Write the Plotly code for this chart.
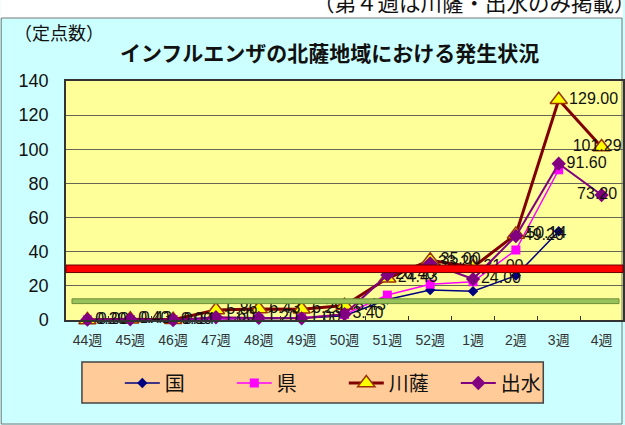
import plotly.graph_objects as go

weeks = ["44週", "45週", "46週", "47週", "48週", "49週", "50週", "51週", "52週", "1週", "2週", "3週", "4週"]
kuni = [0.1, 0.2, 0.3, 0.5, 0.7, 1.0, 2.5, 12.0, 17.6, 16.8, 26.0, 52.0, None]
ken = [0.1, 0.2, 0.3, 0.6, 0.9, 1.3, 3.2, 14.6, 21.0, 22.4, 41.0, 88.0, None]
sensatsu = [0.00, 0.43, 0.14, 5.86, 6.43, 6.29, 8.43, 24.43, 35.00, 31.00, 50.14, 129.00, 101.29]
izumi = [0.20, 0.40, 0.00, 1.60, 1.20, 1.00, 3.40, 26.40, 33.20, 24.00, 49.20, 91.60, 73.20]
yticks = [0, 20, 40, 60, 80, 100, 120, 140]
alert_level = 30
caution_level = 11

FONT = "Liberation Sans, Arial, Noto Sans CJK JP, sans-serif"
JFONT = "Noto Sans CJK JP, sans-serif"

L, R, T, B = 66, 0, 81, 105
W, H = 625, 425
PW, PH = W - L - R, H - T - B


def px(x):
    return (x - L) / PW


def py(y):
    return (H - B - y) / PH


def labels(values):
    # last point: keep the label inside the chart (shifted left like the original)
    out = [f"{v:.2f}" for v in values]
    out[-1] = out[-1] + "\u00a0" * 2
    return out


def positions(values):
    pos = ["middle right"] * len(values)
    pos[-1] = "middle center"
    return pos


fig = go.Figure()
fig.add_trace(go.Scatter(x=weeks, y=kuni, name="国", mode="lines+markers",
                         line=dict(color="#000080", width=1.5),
                         marker=dict(symbol="diamond", size=8, color="#000080")))
fig.add_trace(go.Scatter(x=weeks, y=ken, name="県", mode="lines+markers",
                         line=dict(color="#FF00FF", width=1.5),
                         marker=dict(symbol="square", size=9, color="#FF00FF")))
fig.add_trace(go.Scatter(x=weeks, y=sensatsu, name="川薩", mode="lines+markers+text",
                         line=dict(color="#800000", width=3),
                         marker=dict(symbol="triangle-up", size=15, color="#FFFF00",
                                     line=dict(color="#993300", width=1.5)),
                         text=labels(sensatsu), textposition=positions(sensatsu),
                         textfont=dict(family=FONT, size=16, color="#111111"), cliponaxis=False))
fig.add_trace(go.Scatter(x=weeks, y=izumi, name="出水", mode="lines+markers+text",
                         line=dict(color="#800080", width=2),
                         marker=dict(symbol="diamond", size=11, color="#800080"),
                         text=labels(izumi), textposition=positions(izumi),
                         textfont=dict(family=FONT, size=16, color="#111111"), cliponaxis=False))

shapes = [
    dict(type="rect", xref="paper", yref="paper", x0=px(0), x1=px(W), y0=py(0), y1=py(18),
         fillcolor="white", line=dict(width=0), layer="below"),
    dict(type="rect", xref="paper", yref="paper", x0=px(1), x1=px(624), y0=py(18), y1=py(424),
         fillcolor="rgba(0,0,0,0)", line=dict(color="#777777", width=1), layer="below"),
    dict(type="rect", xref="paper", yref="paper", x0=px(82), x1=px(545), y0=py(362), y1=py(403),
         fillcolor="#FFCC99", line=dict(color="#444444", width=1.5), layer="below"),
    dict(type="rect", xref="paper", yref="y", x0=px(72), x1=px(621), y0=caution_level - 1.4,
         y1=caution_level + 1.4, fillcolor="#99C35A", line=dict(color="#6B8E3A", width=1),
         layer="above"),
    dict(type="rect", xref="paper", yref="y", x0=0, x1=1, y0=alert_level - 2.2, y1=alert_level + 2.2,
         fillcolor="#FF0000", line=dict(color="#660000", width=1), layer="above"),
]

annotations = [
    dict(text="インフルエンザの北薩地域における発生状況", xref="paper", yref="paper",
         x=px(330), y=py(52), xanchor="center", yanchor="middle", showarrow=False,
         font=dict(family=JFONT, size=21, color="#111111", weight="bold")),
    dict(text="（定点数）", xref="paper", yref="paper", x=px(12), y=py(32), xanchor="left",
         yanchor="middle", showarrow=False, font=dict(family=JFONT, size=18, color="#111111")),
    dict(text="（第４週は川薩・出水のみ掲載）", xref="paper", yref="paper", x=px(312), y=py(1),
         xanchor="left", yanchor="middle", showarrow=False,
         font=dict(family=JFONT, size=21.5, color="#111111")),
]

fig.update_layout(
    width=W, height=H,
    margin=dict(l=L, r=R, t=T, b=B, pad=0),
    paper_bgcolor="#CCFFFF", plot_bgcolor="#FFFF99",
    font=dict(family=FONT, color="#111111"),
    shapes=shapes, annotations=annotations,
    showlegend=True,
    legend=dict(orientation="h", x=px(120), y=py(383), xanchor="left", yanchor="middle",
                bgcolor="rgba(0,0,0,0)", borderwidth=0,
                font=dict(family=JFONT, size=20, color="#111111"),
                entrywidth=62, entrywidthmode="pixels", itemwidth=35),
    xaxis=dict(type="category", categoryorder="array", categoryarray=weeks,
               range=[-0.5, len(weeks) - 0.5],
               showline=True, linecolor="#333333", linewidth=1.5, mirror=True,
               ticks="inside", ticklen=4, tickcolor="#333333", tickson="boundaries",
               showgrid=False, tickfont=dict(family=FONT, size=14, color="#333333"),
               ticklabelstandoff=6),
    yaxis=dict(range=[0, 140], tickvals=yticks, showline=True, linecolor="#333333",
               linewidth=1.5, mirror=True, showgrid=True, gridcolor="#666655", gridwidth=1,
               zeroline=False, ticks="", tickfont=dict(family=FONT, size=18, color="#111111"),
               ticklabelstandoff=12),
)

fig.write_html("out.html", config={"displayModeBar": False},
               post_script="document.body.style.margin='0';document.body.style.overflow='hidden';")
